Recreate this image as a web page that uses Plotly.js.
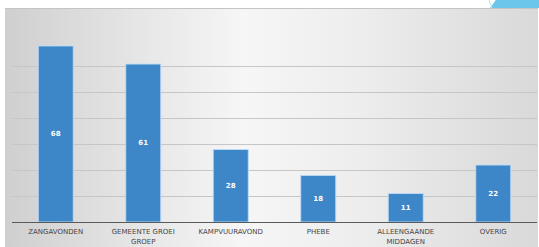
<!DOCTYPE html>
<html>
<head>
<meta charset="utf-8">
<script src="https://cdn.plot.ly/plotly-3.0.1.min.js"></script>
<style>
  html, body { margin: 0; padding: 0; background: #ffffff; }
  #wrap { position: relative; width: 539px; height: 247px; overflow: hidden; background: #ffffff; }
  #bg { position: absolute; left: 5px; top: 8px; width: 533px; height: 239px;
        background: linear-gradient(to right, #cfcfcf 0%, #e6e6e6 25%, #f6f6f6 45%, #eeeeee 65%, #d9d9d9 100%);
        border-top: 1px solid #c4c4c4; }
  #deco { position: absolute; left: 490px; top: 0px; width: 49px; height: 8px;
          background: #6cc6ec; clip-path: polygon(12% 0, 100% 0, 100% 100%, 0 100%); }
  #deco2 { position: absolute; left: 482px; top: 0px; width: 8px; height: 8px;
           border-right: 1px solid #b8dff0; transform: skewX(20deg); }
  #chart { position: absolute; left: 0; top: 0; width: 539px; height: 247px; }
</style>
</head>
<body>
<div id="wrap">
  <div id="bg"></div>
  <div id="deco"></div>
  <div id="deco2"></div>
  <div id="chart"></div>
</div>
<script>
const categories = ["ZANGAVONDEN", "GEMEENTE GROEI<br>GROEP", "KAMPVUURAVOND", "PHEBE", "ALLEENGAANDE<br>MIDDAGEN", "OVERIG"];
const values = [68, 61, 28, 18, 11, 22];

const trace = {
  type: "bar",
  x: categories,
  y: values,
  text: values.map(String),
  textposition: "inside",
  insidetextanchor: "middle",
  textangle: 0,
  constraintext: "none",
  textfont: { family: "DejaVu Sans", size: 7, color: "#ffffff", weight: "bold" },
  marker: { color: "#3d87c8", line: { color: "rgba(190,220,245,0.9)", width: 1 } },
  hoverinfo: "none"
};

const layout = {
  width: 539, height: 247,
  margin: { l: 12, r: 2, t: 40, b: 25, pad: 0 },
  paper_bgcolor: "rgba(0,0,0,0)",
  plot_bgcolor: "rgba(0,0,0,0)",
  bargap: 0.6,
  showlegend: false,
  xaxis: {
    showgrid: false, showline: true, linecolor: "#5a5a5a", linewidth: 1,
    ticks: "", ticklabelstandoff: 3,
    tickfont: { family: "DejaVu Sans", size: 7, color: "#454545" },
    fixedrange: true
  },
  yaxis: {
    range: [0, 70.3], dtick: 10, showgrid: true, gridcolor: "#c6c6c6", gridwidth: 1,
    showticklabels: false, zeroline: false, showline: false, fixedrange: true
  }
};

Plotly.newPlot("chart", [trace], layout, { displayModeBar: false, staticPlot: true });
</script>
</body>
</html>
